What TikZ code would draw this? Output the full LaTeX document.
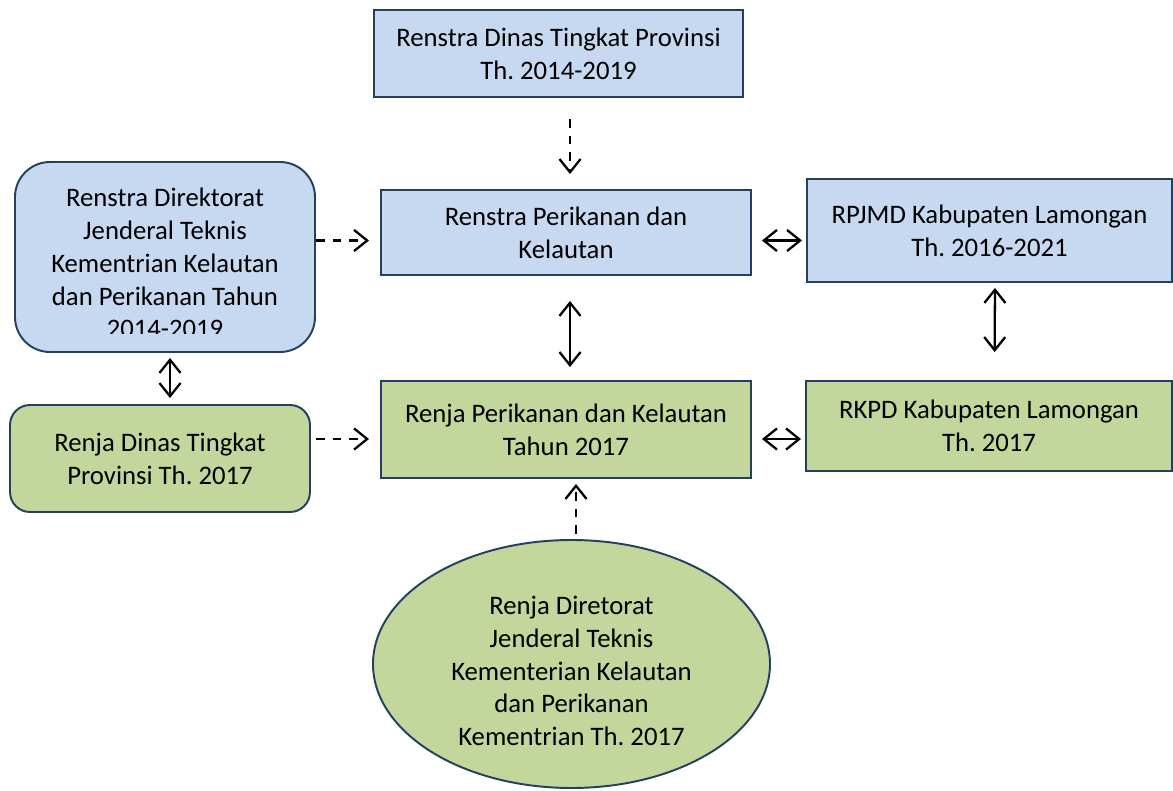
\documentclass[tikz,border=0pt]{standalone}
\usepackage{fontspec}
\setmainfont{Carlito}
\usetikzlibrary{arrows.meta,shapes.geometric,calc}
\definecolor{boxblue}{HTML}{C6D9F1}
\definecolor{boxgreen}{HTML}{C3D69B}
\definecolor{boxline}{HTML}{243F60}
\frenchspacing
\tikzset{
  plainbox/.style={rectangle,draw=boxline,line width=1.1pt,align=center,inner sep=2pt},
  bluebox/.style={plainbox,fill=boxblue},
  greenbox/.style={plainbox,fill=boxgreen},
  tip/.tip={Straight Barb[length=7.5pt,width=12pt,line width=1.3pt]},
  dasharrow/.style={-tip,line width=1.3pt,dash pattern=on 5pt off 4.5pt},
  dblarrow/.style={tip-tip,line width=1.3pt}
}
\begin{document}
\begin{tikzpicture}[font=\fontsize{15.2}{18.7}\selectfont]
        \useasboundingbox (0,0) rectangle (23.46,-15.82);
        \node (prov) at (11.17,-1.07) [bluebox,minimum width=7.38cm,minimum height=1.74cm] {Renstra Dinas Tingkat Provinsi \\ Th. 2014-2019};
        \node (renstraKP) at (11.32,-4.65) [bluebox,minimum width=7.40cm,minimum height=1.70cm] {Renstra Perikanan dan \\ Kelautan};
        \node (rpjmd) at (19.79,-4.61) [bluebox,minimum width=7.30cm,minimum height=2.06cm] {RPJMD Kabupaten Lamongan \\ Th. 2016-2021};
        \node (dirjen) at (3.30,-5.14) [bluebox,rounded corners=0.7cm,minimum width=6.00cm,minimum height=3.80cm] {};
        \begin{scope}
          \clip (0.32,-3.26) rectangle (6.28,-6.66);
          \node at (3.30,-5.26) [align=center] {Renstra Direktorat \\ Jenderal Teknis \\ Kementrian Kelautan \\ dan Perikanan Tahun \\ 2014-2019};
        \end{scope}
        \node (renjaProv) at (3.20,-9.17) [greenbox,rounded corners=0.4cm,minimum width=6.00cm,minimum height=2.14cm] {Renja Dinas Tingkat \\ Provinsi Th. 2017};
        \node (renjaKP) at (11.32,-8.59) [greenbox,minimum width=7.40cm,minimum height=1.94cm] {Renja Perikanan dan Kelautan \\ Tahun 2017};
        \node (rkpd) at (19.78,-8.52) [greenbox,minimum width=7.32cm,minimum height=1.80cm] {RKPD Kabupaten Lamongan \\ Th. 2017};
        \node (renjaDirjen) at (11.43,-13.28) [ellipse,draw=boxline,fill=boxgreen,line width=1.1pt,minimum width=7.94cm,minimum height=4.96cm,inner sep=0pt] {};
        \node at (11.43,-13.42) [align=center] {Renja Diretorat \\ Jenderal Teknis \\ Kementerian Kelautan \\ dan Perikanan \\ Kementrian Th. 2017};
        \coordinate (upper) at ($(renstraKP.west)+(0,-0.16)$);
        \coordinate (lower) at ($(renjaKP.west)+(0,-0.19)$);
        \draw [dasharrow,shorten <=0.42cm,shorten >=0.30cm] ($(renstraKP.north |- prov.south)+(0.08,0)$) -- ($(renstraKP.north)+(0.08,0)$);
        \draw [dasharrow,shorten >=0.22cm] (upper -| dirjen.east) -- (upper);
        \draw [dblarrow,shorten <=0.20cm,shorten >=0.08cm] (upper -| renstraKP.east) -- (upper -| rpjmd.west);
        \draw [dblarrow,shorten <=0.50cm,shorten >=0.26cm] ($(renstraKP.south)+(0.08,0)$) -- ($(renjaKP.north)+(0.08,0)$);
        \draw [dblarrow,shorten <=0.10cm,shorten >=0.56cm] ($(rpjmd.south)+(0.11,0)$) -- ($(rkpd.north)+(0.11,0)$);
        \draw [dblarrow,shorten <=0.10cm,shorten >=0.12cm] ($(dirjen.south)+(0.10,0)$) -- ($(dirjen.south |- renjaProv.north)+(0.10,0)$);
        \draw [dasharrow,shorten <=0.10cm,shorten >=0.22cm] (lower -| renjaProv.east) -- (lower);
        \draw [dblarrow,shorten <=0.20cm,shorten >=0.08cm] (lower -| renjaKP.east) -- (lower -| rkpd.west);
        \draw [dasharrow,shorten <=0.10cm,shorten >=0.10cm] ($(renjaDirjen.north)+(0.09,0)$) -- ($(renjaDirjen.north |- renjaKP.south)+(0.09,0)$);
      \end{tikzpicture}
\end{document}
